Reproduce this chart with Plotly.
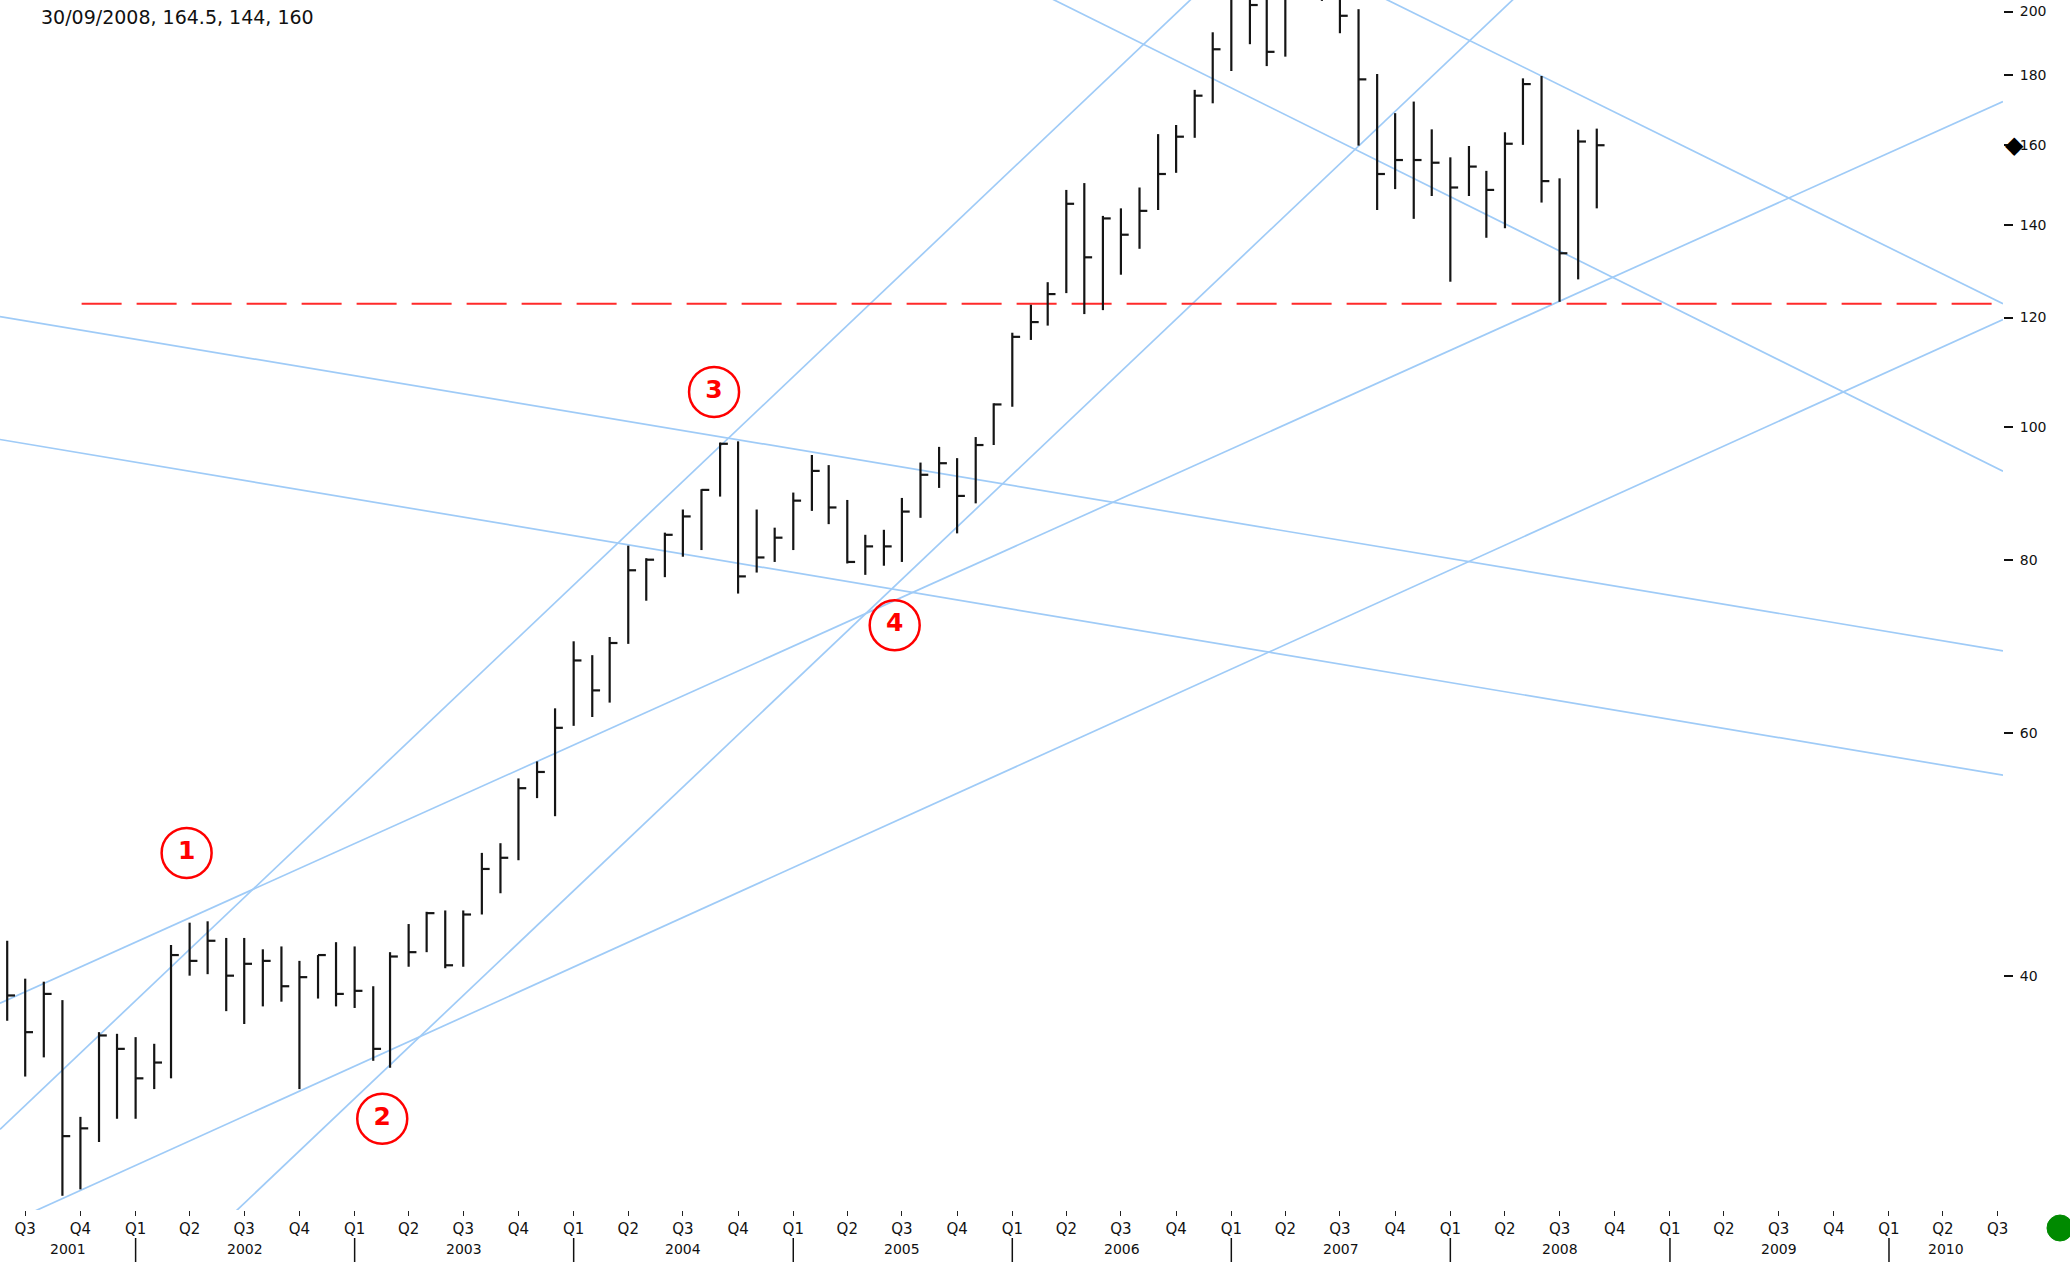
import numpy as np
import pandas as pd
import plotly.graph_objects as go

# ---------------- data ----------------
months = pd.date_range("2001-06-01", "2008-09-01", freq="MS")

high = [42.4, 39.8, 39.6, 38.4, 31.6, 36.4, 36.3,
        36.1, 35.7, 42.1, 43.7, 43.8, 42.6, 42.6, 41.8, 42.0, 41.0, 41.4, 42.3,
        42.0, 39.3, 41.6, 43.6, 44.5, 44.6, 44.6, 49.1, 49.9, 55.6, 57.2, 62.5,
        69.9, 68.3, 70.4, 82.0, 80.3, 83.8, 87.1, 90.1, 97.4, 97.6, 87.1, 84.5,
        89.6, 95.4, 93.8, 88.5, 83.5, 84.2, 88.8, 94.2, 96.7, 94.9, 98.3, 104.0,
        117.0, 122.6, 127.3, 148.5, 150.2, 142.2, 144.0, 149.1, 163.0, 165.5, 175.5, 193.2,
        216.0, 220.0, 212.0, 218.0, 232.0, 236.0, 226.0, 200.8, 180.2, 168.8, 172.1, 164.3,
        156.8, 159.8, 153.3, 163.5, 178.9, 179.6, 151.4, 164.2, 164.5]

low = [37.1, 33.8, 34.9, 27.7, 28.0, 30.3, 31.5,
       31.5, 33.1, 33.7, 40.0, 40.1, 37.7, 36.9, 38.0, 38.3, 33.1, 38.5, 38.0,
       37.9, 34.7, 34.3, 40.6, 41.6, 40.5, 40.6, 44.3, 45.9, 48.5, 53.8, 52.2,
       60.7, 61.6, 63.1, 69.6, 74.8, 77.8, 80.5, 81.4, 89.0, 75.7, 78.4, 79.8,
       81.4, 86.9, 85.0, 79.6, 78.1, 79.3, 79.8, 85.9, 90.3, 83.7, 88.0, 97.0,
       103.4, 115.6, 118.4, 125.0, 120.7, 121.5, 128.9, 134.6, 143.6, 152.8, 162.0, 171.6,
       181.1, 189.4, 182.6, 185.5, 207.0, 203.6, 192.9, 159.9, 143.6, 148.7, 141.5, 147.0,
       127.4, 147.0, 137.1, 139.3, 160.1, 145.4, 123.2, 127.9, 144.0]

close = [38.7, 36.4, 38.8, 30.6, 31.0, 36.2, 35.4,
         33.7, 34.6, 41.4, 41.0, 42.4, 40.0, 40.8, 41.0, 39.3, 39.9, 41.4, 38.8,
         39.0, 35.4, 41.3, 41.6, 44.4, 40.7, 44.3, 47.8, 48.7, 54.7, 56.2, 60.5,
         67.7, 64.4, 69.7, 78.7, 80.1, 83.5, 86.1, 90.0, 97.2, 77.9, 80.4, 83.1,
         88.4, 92.9, 87.4, 79.8, 81.9, 81.9, 86.8, 92.3, 94.1, 89.1, 97.0, 103.8,
         116.2, 119.1, 124.8, 145.1, 132.7, 141.6, 137.8, 143.4, 152.5, 162.3, 173.8, 187.8,
         209.0, 202.2, 187.0, 210.0, 224.0, 214.0, 198.6, 178.6, 152.5, 156.1, 156.1, 155.4,
         149.1, 154.4, 148.5, 160.4, 177.2, 150.7, 133.6, 161.0, 160.0]

support_level = 122.8
support_start = "2001-10-03"

trend_start_date = ["2001-05-20", "2001-05-20", "2001-05-20", "2001-05-20",
                    "2001-05-20", "2002-05-15", "2005-09-03", "2007-03-11"]
trend_start_val = [120.2, 97.9, 38.2, 26.3, 30.95, 26.16, 224.1, 224.1]
trend_end_date = ["2010-07-10", "2010-07-10", "2010-07-10", "2010-07-10",
                  "2007-02-01", "2008-07-22", "2010-07-10", "2010-07-10"]
trend_end_val = [68.8, 55.9, 172.1, 119.6, 224.1, 224.1, 92.85, 122.8]

callout_labels = ["1", "2", "3", "4"]
callout_dates = ["2002-03-27", "2003-02-16", "2004-08-22", "2005-06-19"]
callout_vals = [49.1, 31.5, 106.0, 71.8]

y_tick_vals = [40, 60, 80, 100, 120, 140, 160, 180, 200]
y_tick_text = ["40", "60", "80", "100", "120", "140", "160", "180", "200"]
years = list(range(2001, 2011))
x_range = ["2001-05-20", "2010-07-10"]
y_range_vals = [27.05, 203.9]
header_text = "30/09/2008, 164.5, 144, 160"

FONT = "DejaVu Sans"

# ---------------- figure ----------------
fig = go.Figure()

# trend lines
tx, ty = [], []
for d0, v0, d1, v1 in zip(trend_start_date, trend_start_val, trend_end_date, trend_end_val):
    tx += [d0, d1, None]
    ty += [v0, v1, None]
fig.add_trace(go.Scatter(x=tx, y=ty, mode="lines", hoverinfo="skip",
                         line=dict(color="#9fcbf7", width=1.7), showlegend=False))

# support line
fig.add_trace(go.Scatter(x=[support_start, x_range[1]], y=[support_level, support_level],
                         mode="lines", hoverinfo="skip", showlegend=False,
                         line=dict(color="#ff2a2a", width=2.2, dash="40px,15px")))

# HLC bars
tick = pd.Timedelta(days=13)
bx, by = [], []
for d, h, l, c in zip(months, high, low, close):
    ds = d.strftime("%Y-%m-%d")
    de = (d + tick).strftime("%Y-%m-%d")
    bx += [ds, ds, None, ds, de, None]
    by += [l, h, None, c, c, None]
fig.add_trace(go.Scatter(x=bx, y=by, mode="lines", showlegend=False, hoverinfo="skip",
                         line=dict(color="#151515", width=2.2)))

# callouts
fig.add_trace(go.Scatter(
    x=callout_dates, y=callout_vals, mode="markers+text",
    text=["<b>%s</b>" % s for s in callout_labels], textposition="middle center",
    textfont=dict(family=FONT, size=25, color="#ff0000"),
    marker=dict(symbol="circle-open", size=50, color="#ff0000", line=dict(width=2.5)),
    cliponaxis=False, showlegend=False, hoverinfo="skip"))

# quarter ticks
q_ticks = pd.date_range("2001-07-01", "2010-07-01", freq="QS")
q_text = ["Q%d" % d.quarter for d in q_ticks]

fig.update_layout(
    width=2070, height=1274,
    margin=dict(l=0, r=67, t=0, b=64),
    paper_bgcolor="white", plot_bgcolor="white",
    font=dict(family=FONT, color="#111"),
    xaxis=dict(type="date", range=x_range, showgrid=False, zeroline=False, showline=False,
               tickmode="array", tickvals=[d.strftime("%Y-%m-%d") for d in q_ticks],
               ticktext=q_text, ticks="outside", ticklen=5, tickwidth=1,
               tickcolor="#222", tickfont=dict(size=15, family=FONT, color="#111")),
    yaxis=dict(type="log", side="right",
               range=[np.log10(y_range_vals[0]), np.log10(y_range_vals[1])],
               showgrid=False, zeroline=False, showline=False,
               tickmode="array", tickvals=y_tick_vals, ticktext=y_tick_text,
               ticks="outside", ticklen=9, tickwidth=1.5, tickcolor="#111",
               ticklabelstandoff=4,
               tickfont=dict(size=14, family=FONT, color="#111")),
)

# year labels and separators
start = pd.Timestamp(x_range[0])
end = pd.Timestamp(x_range[1])
annotations = []
shapes = []
for y in years:
    a = max(pd.Timestamp(f"{y}-01-01"), start)
    b = min(pd.Timestamp(f"{y + 1}-01-01"), end)
    mid = a + (b - a) / 2
    annotations.append(dict(x=mid.strftime("%Y-%m-%d"), xref="x", y=0, yref="paper",
                            yanchor="middle", yshift=-39, showarrow=False, text=str(y),
                            font=dict(size=14, family=FONT, color="#111")))
    if y > years[0]:
        shapes.append(dict(type="line", xref="x", yref="paper",
                           x0=f"{y}-01-01", x1=f"{y}-01-01",
                           ysizemode="pixel", yanchor=0, y0=-28, y1=-52,
                           line=dict(color="#111", width=1.5)))

# header text
annotations.append(dict(x=0, y=1, xref="paper", yref="paper", xanchor="left", yanchor="middle",
                        xshift=39, yshift=-17, showarrow=False, text=header_text,
                        font=dict(size=19, family=FONT, color="#111")))
# last price marker
annotations.append(dict(x=1, xref="paper", y=np.log10(close[-1]), yref="y",
                        xanchor="center", yanchor="middle", xshift=11, showarrow=False,
                        text="◆", font=dict(size=24, family=FONT, color="#000")))

# green status dot
shapes.append(dict(type="circle", xref="paper", yref="paper",
                   xsizemode="pixel", xanchor=1, x0=44, x1=70,
                   ysizemode="pixel", yanchor=0, y0=-5, y1=-31,
                   fillcolor="#008a00", line=dict(color="#008a00", width=1)))

fig.update_layout(annotations=annotations, shapes=shapes)

fig.write_html("out.html", config={"displayModeBar": False},
               post_script="document.body.style.margin='0px';document.body.style.overflow='hidden';")
